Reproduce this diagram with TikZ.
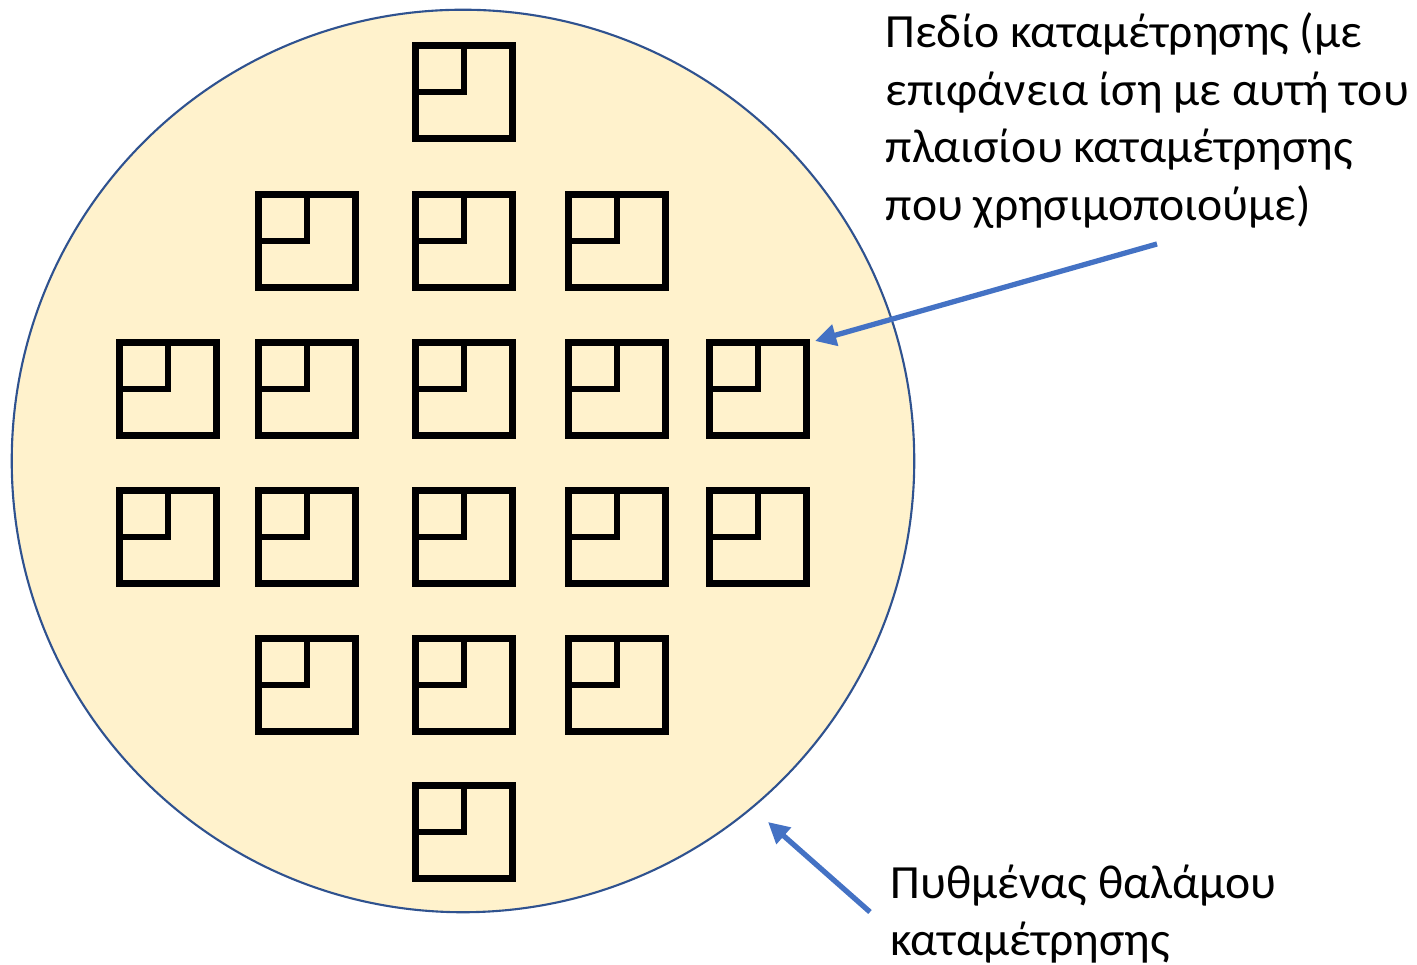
\documentclass[tikz,border=0pt]{standalone}
\usepackage{fontspec}
\setmainfont{Carlito}
\usetikzlibrary{arrows.meta}
\definecolor{chamber}{HTML}{FFF2CC}
\definecolor{rim}{HTML}{2F528F}
\definecolor{pointer}{HTML}{4472C4}

\begin{document}
\begin{tikzpicture}[x=0.01cm,y=-0.01cm,
        field/.style={draw,line width=1.75pt,minimum width=0.97cm,minimum height=0.93cm,inner sep=0pt},
        ptr/.style={draw=pointer,line width=1.5pt,-{Triangle[length=6pt,width=6pt]}},
        note/.style={align=left,inner sep=0pt,font=\fontsize{13.55}{16.35}\selectfont}]
    \useasboundingbox (0,0) rectangle (1417,965);

    \node[circle,draw=rim,fill=chamber,line width=0.6pt,minimum size=9.02cm,inner sep=0pt] (floor) at (463,461) {};

    % rows of counting fields
    \foreach \r/\y/\cols in {1/92/{3},2/241/{2,3,4},3/389/{1,2,3,4,5},4/537/{1,2,3,4,5},5/685/{2,3,4},6/832/{3}}
      \foreach \c in \cols {
        \pgfmathsetmacro{\x}{{168,307,464,617,758}[\c-1]}
        \node[field] (f\r\c) at (\x,\y) {};
        \draw[line width=1.75pt] (f\r\c.north) -- (f\r\c.center) -- (f\r\c.west);
      }

    \node[note,anchor=north west] (fieldnote) at (885,12) {Πεδίο καταμέτρησης (με\\επιφάνεια ίση με αυτή του\\πλαισίου καταμέτρησης\\που χρησιμοποιούμε)};
    \node[note,anchor=north west] (floornote) at (890,864) {Πυθμένας θαλάμου\\καταμέτρησης};

    \coordinate (tailA) at (1157,244);
    \coordinate (tipA) at (815,341);
    \coordinate (tailB) at (870,912);
    \coordinate (tipB) at (768,822);
    \draw[ptr] (tailA) -- (tipA);
    \draw[ptr] (tailB) -- (tipB);
\end{tikzpicture}
\end{document}
